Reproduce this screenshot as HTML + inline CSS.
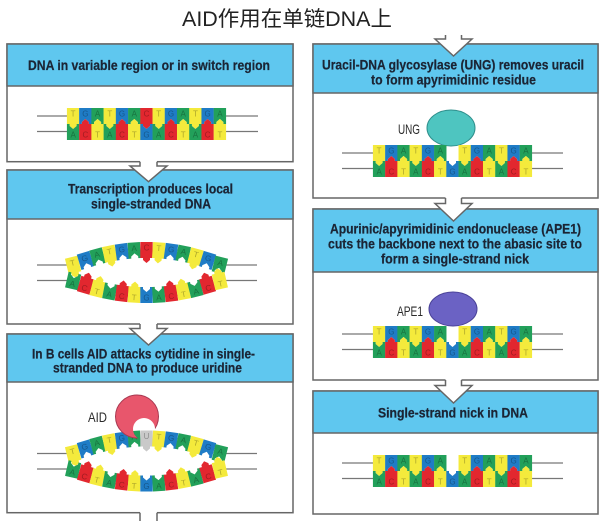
<!DOCTYPE html>
<html><head><meta charset="utf-8">
<style>
html,body{margin:0;padding:0;background:#fff;}
svg{display:block;}
.l{font-family:"Liberation Sans",sans-serif;font-size:8px;text-anchor:middle;fill:#000;fill-opacity:.3}
.h{font-family:"Liberation Sans",sans-serif;font-size:14px;font-weight:bold;fill:#1b2535;stroke:#1b2535;stroke-width:.25}
.lab{font-family:"Liberation Sans",sans-serif;font-size:14px;fill:#2a2a2a}
</style></head>
<body>
<svg width="607" height="521" viewBox="0 0 607 521" xmlns="http://www.w3.org/2000/svg">
<defs>
<path id="pt" d="M-6.2,-8H6.2V8H3.5V10L0,13L-3.5,10V8H-6.2Z"/>
<path id="rt" d="M-6.2,-8H6.2V8H3.5V6L0,3L-3.5,6V8H-6.2Z"/>
<path id="pb" d="M-6.2,8H6.2V-8H3.5V-10L0,-13L-3.5,-10V-8H-6.2Z"/>
<path id="rb" d="M-6.2,8H6.2V-8H3.5V-6L0,-3L-3.5,-6V-8H-6.2Z"/>
<mask id="aidm"><rect x="100" y="380" width="90" height="80" fill="#fff"/><circle cx="144" cy="429" r="11" fill="#000"/></mask>
</defs>

<!-- title -->
<text x="182" y="26" font-family="'Liberation Sans','Noto Sans CJK SC',sans-serif" font-size="21" fill="#222" textLength="210" lengthAdjust="spacingAndGlyphs">AID作用在单链DNA上</text>

<!-- panels -->
<g stroke="#666" stroke-width="1.5">
<rect x="7" y="44" width="286" height="117.7" fill="#fff"/>
<rect x="7" y="44" width="286" height="42" fill="#5fc7ef"/>
<rect x="7" y="170" width="286" height="154" fill="#fff"/>
<rect x="7" y="170" width="286" height="49" fill="#5fc7ef"/>
<rect x="7" y="334" width="286" height="178.7" fill="#fff"/>
<rect x="7" y="334" width="286" height="48" fill="#5fc7ef"/>
<rect x="313" y="44" width="285" height="154" fill="#fff"/>
<rect x="313" y="44" width="285" height="49" fill="#5fc7ef"/>
<rect x="313" y="209" width="285" height="171" fill="#fff"/>
<rect x="313" y="209" width="285" height="63" fill="#5fc7ef"/>
<rect x="313" y="391" width="285" height="123" fill="#fff"/>
<rect x="313" y="391" width="285" height="42" fill="#5fc7ef"/>
</g>

<!-- arrows -->
<g fill="#fff" stroke="none">
<path d="M140,160V166H130L148.5,181.7L167,166H157V160Z"/>
<path d="M140,322.5V328.5H130L148.5,345L167,328.5H157V322.5Z"/>
<rect x="140" y="511" width="17" height="12"/>
<path d="M445.5,33V39H435L453.5,56L472,39H461.5V33Z"/>
<path d="M445.5,196.5V203.5H435L453.5,221L472,203.5H461.5V196.5Z"/>
<path d="M445.5,378.5V385.5H435L453.5,403L472,385.5H461.5V378.5Z"/>
</g>
<g fill="none" stroke="#666" stroke-width="1.5">
<path d="M140,161.7V166H130L148.5,181.7L167,166H157V161.7"/>
<path d="M140,324V328.5H130L148.5,345L167,328.5H157V324"/>
<path d="M140,512.7V522M157,512.7V522"/>
<path d="M445.5,35V39H435L453.5,56L472,39H461.5V35"/>
<path d="M445.5,198V203.5H435L453.5,221L472,203.5H461.5V198"/>
<path d="M445.5,380V385.5H435L453.5,403L472,385.5H461.5V380"/>
</g>

<!-- header texts -->
<text class="h" x="28" y="70" textLength="242" lengthAdjust="spacingAndGlyphs">DNA in variable region or in switch region</text>
<text class="h" x="68" y="193.5" textLength="165" lengthAdjust="spacingAndGlyphs">Transcription produces local</text>
<text class="h" x="91" y="208.5" textLength="120" lengthAdjust="spacingAndGlyphs">single-stranded DNA</text>
<text class="h" x="32" y="358.5" textLength="223" lengthAdjust="spacingAndGlyphs">In B cells AID attacks cytidine in single-</text>
<text class="h" x="53" y="372.5" textLength="189" lengthAdjust="spacingAndGlyphs">stranded DNA to produce uridine</text>
<text class="h" x="322" y="69.5" textLength="262" lengthAdjust="spacingAndGlyphs">Uracil-DNA glycosylase (UNG) removes uracil</text>
<text class="h" x="371" y="84.5" textLength="165" lengthAdjust="spacingAndGlyphs">to form apyrimidinic residue</text>
<text class="h" x="330" y="233.5" textLength="251" lengthAdjust="spacingAndGlyphs">Apurinic/apyrimidinic endonuclease (APE1)</text>
<text class="h" x="328" y="248.5" textLength="254" lengthAdjust="spacingAndGlyphs">cuts the backbone next to the abasic site to</text>
<text class="h" x="381" y="263.5" textLength="148" lengthAdjust="spacingAndGlyphs">form a single-strand nick</text>
<text class="h" x="378" y="417.5" textLength="150" lengthAdjust="spacingAndGlyphs">Single-strand nick in DNA</text>

<!-- backbone lines -->
<g stroke="#777" stroke-width="1.3">
<path d="M37,116H68M225,116H258M37,131.5H68M225,131.5H258"/>
<path d="M37,265H68M225,265H257M37,280.5H68M225,280.5H257"/>
<path d="M37,453.5H68M225,453.5H257M37,469H68M225,469H257"/>
<path d="M342,153H374M531,153H563M342,168.5H374M531,168.5H563"/>
<path d="M342,334H374M531,334H563M342,349.5H374M531,349.5H563"/>
<path d="M342,463H374M531,463H563M342,478.5H374M531,478.5H563"/>
</g>

<!-- enzymes behind DNA -->
<ellipse cx="451" cy="128" rx="24" ry="18" fill="#4ec5c0" stroke="#2f8f8c" stroke-width="1"/>
<ellipse cx="453" cy="309" rx="24" ry="17" fill="#6b62c4" stroke="#4a4298" stroke-width="1"/>
<text class="lab" x="398" y="134" textLength="22" lengthAdjust="spacingAndGlyphs">UNG</text>
<text class="lab" x="397" y="316" textLength="26" lengthAdjust="spacingAndGlyphs">APE1</text>
<text class="lab" x="88" y="422" textLength="19" lengthAdjust="spacingAndGlyphs">AID</text>

<!-- DNA L1 flat -->
<g transform="translate(67,108)">
<g transform="translate(6.12,8)"><use href="#pt" fill="#f4ea3c"/><text class="l" y=".5">T</text></g>
<g transform="translate(18.35,8)"><use href="#rt" fill="#1f7cc6"/><text class="l" y=".5">G</text></g>
<g transform="translate(30.58,8)"><use href="#rt" fill="#22a05a"/><text class="l" y=".5">A</text></g>
<g transform="translate(42.81,8)"><use href="#pt" fill="#f4ea3c"/><text class="l" y=".5">T</text></g>
<g transform="translate(55.04,8)"><use href="#rt" fill="#1f7cc6"/><text class="l" y=".5">G</text></g>
<g transform="translate(67.27,8)"><use href="#rt" fill="#22a05a"/><text class="l" y=".5">A</text></g>
<g transform="translate(79.5,8)"><use href="#pt" fill="#e2272f"/><text class="l" y=".5">C</text></g>
<g transform="translate(91.73,8)"><use href="#pt" fill="#f4ea3c"/><text class="l" y=".5">T</text></g>
<g transform="translate(103.96,8)"><use href="#rt" fill="#1f7cc6"/><text class="l" y=".5">G</text></g>
<g transform="translate(116.19,8)"><use href="#rt" fill="#22a05a"/><text class="l" y=".5">A</text></g>
<g transform="translate(128.42,8)"><use href="#pt" fill="#f4ea3c"/><text class="l" y=".5">T</text></g>
<g transform="translate(140.65,8)"><use href="#rt" fill="#1f7cc6"/><text class="l" y=".5">G</text></g>
<g transform="translate(152.88,8)"><use href="#rt" fill="#22a05a"/><text class="l" y=".5">A</text></g>
<g transform="translate(6.12,24)"><use href="#rb" fill="#22a05a"/><text class="l" y="5.5">A</text></g>
<g transform="translate(18.35,24)"><use href="#pb" fill="#e2272f"/><text class="l" y="5.5">C</text></g>
<g transform="translate(30.58,24)"><use href="#pb" fill="#f4ea3c"/><text class="l" y="5.5">T</text></g>
<g transform="translate(42.81,24)"><use href="#rb" fill="#22a05a"/><text class="l" y="5.5">A</text></g>
<g transform="translate(55.04,24)"><use href="#pb" fill="#e2272f"/><text class="l" y="5.5">C</text></g>
<g transform="translate(67.27,24)"><use href="#pb" fill="#f4ea3c"/><text class="l" y="5.5">T</text></g>
<g transform="translate(79.5,24)"><use href="#rb" fill="#1f7cc6"/><text class="l" y="5.5">G</text></g>
<g transform="translate(91.73,24)"><use href="#rb" fill="#22a05a"/><text class="l" y="5.5">A</text></g>
<g transform="translate(103.96,24)"><use href="#pb" fill="#e2272f"/><text class="l" y="5.5">C</text></g>
<g transform="translate(116.19,24)"><use href="#pb" fill="#f4ea3c"/><text class="l" y="5.5">T</text></g>
<g transform="translate(128.42,24)"><use href="#rb" fill="#22a05a"/><text class="l" y="5.5">A</text></g>
<g transform="translate(140.65,24)"><use href="#pb" fill="#e2272f"/><text class="l" y="5.5">C</text></g>
<g transform="translate(152.88,24)"><use href="#pb" fill="#f4ea3c"/><text class="l" y="5.5">T</text></g>
</g>

<!-- DNA L2 bubble -->
<g transform="translate(67,257)">
<g transform="translate(6.12,8) rotate(-14) scale(1.04,1)"><use href="#pt" fill="#f4ea3c"/><text class="l" y=".5">T</text></g>
<g transform="translate(18.35,3.42) rotate(-17) scale(1.05,1)"><use href="#rt" fill="#1f7cc6"/><text class="l" y=".5">G</text></g>
<g transform="translate(30.58,-0.33) rotate(-15) scale(1.036,1)"><use href="#rt" fill="#22a05a"/><text class="l" y=".5">A</text></g>
<g transform="translate(42.81,-3.25) rotate(-11.6) scale(1.021,1)"><use href="#pt" fill="#f4ea3c"/><text class="l" y=".5">T</text></g>
<g transform="translate(55.04,-5.33) rotate(-7.8) scale(1.009,1)"><use href="#rt" fill="#1f7cc6"/><text class="l" y=".5">G</text></g>
<g transform="translate(67.27,-6.58) rotate(-3.9)"><use href="#rt" fill="#22a05a"/><text class="l" y=".5">A</text></g>
<g transform="translate(79.5,-7)"><use href="#pt" fill="#e2272f"/><text class="l" y=".5">C</text></g>
<g transform="translate(91.73,-6.58) rotate(3.9)"><use href="#pt" fill="#f4ea3c"/><text class="l" y=".5">T</text></g>
<g transform="translate(103.96,-5.33) rotate(7.8) scale(1.009,1)"><use href="#rt" fill="#1f7cc6"/><text class="l" y=".5">G</text></g>
<g transform="translate(116.19,-3.25) rotate(11.6) scale(1.021,1)"><use href="#rt" fill="#22a05a"/><text class="l" y=".5">A</text></g>
<g transform="translate(128.42,-0.33) rotate(15) scale(1.036,1)"><use href="#pt" fill="#f4ea3c"/><text class="l" y=".5">T</text></g>
<g transform="translate(140.65,3.42) rotate(17) scale(1.05,1)"><use href="#rt" fill="#1f7cc6"/><text class="l" y=".5">G</text></g>
<g transform="translate(152.88,8) rotate(14) scale(1.04,1)"><use href="#rt" fill="#22a05a"/><text class="l" y=".5">A</text></g>
<g transform="translate(6.12,24) rotate(13) scale(1.04,1)"><use href="#rb" fill="#22a05a"/><text class="l" y="5.5">A</text></g>
<g transform="translate(18.35,28.28) rotate(16) scale(1.045,1)"><use href="#pb" fill="#e2272f"/><text class="l" y="5.5">C</text></g>
<g transform="translate(30.58,31.78) rotate(14) scale(1.032,1)"><use href="#pb" fill="#f4ea3c"/><text class="l" y="5.5">T</text></g>
<g transform="translate(42.81,34.5) rotate(10.8) scale(1.018,1)"><use href="#rb" fill="#22a05a"/><text class="l" y="5.5">A</text></g>
<g transform="translate(55.04,36.44) rotate(7.3) scale(1.008,1)"><use href="#pb" fill="#e2272f"/><text class="l" y="5.5">C</text></g>
<g transform="translate(67.27,37.61) rotate(3.6)"><use href="#pb" fill="#f4ea3c"/><text class="l" y="5.5">T</text></g>
<g transform="translate(79.5,38)"><use href="#rb" fill="#1f7cc6"/><text class="l" y="5.5">G</text></g>
<g transform="translate(91.73,37.61) rotate(-3.6)"><use href="#rb" fill="#22a05a"/><text class="l" y="5.5">A</text></g>
<g transform="translate(103.96,36.44) rotate(-7.3) scale(1.008,1)"><use href="#pb" fill="#e2272f"/><text class="l" y="5.5">C</text></g>
<g transform="translate(116.19,34.5) rotate(-10.8) scale(1.018,1)"><use href="#pb" fill="#f4ea3c"/><text class="l" y="5.5">T</text></g>
<g transform="translate(128.42,31.78) rotate(-14) scale(1.032,1)"><use href="#rb" fill="#22a05a"/><text class="l" y="5.5">A</text></g>
<g transform="translate(140.65,28.28) rotate(-16) scale(1.045,1)"><use href="#pb" fill="#e2272f"/><text class="l" y="5.5">C</text></g>
<g transform="translate(152.88,24) rotate(-13) scale(1.04,1)"><use href="#pb" fill="#f4ea3c"/><text class="l" y="5.5">T</text></g>
</g>

<!-- DNA L3 bubble with U -->
<g transform="translate(67,445.5)">
<g transform="translate(6.12,8) rotate(-14) scale(1.04,1)"><use href="#pt" fill="#f4ea3c"/><text class="l" y=".5">T</text></g>
<g transform="translate(18.35,3.42) rotate(-17) scale(1.05,1)"><use href="#rt" fill="#1f7cc6"/><text class="l" y=".5">G</text></g>
<g transform="translate(30.58,-0.33) rotate(-15) scale(1.036,1)"><use href="#rt" fill="#22a05a"/><text class="l" y=".5">A</text></g>
<g transform="translate(42.81,-3.25) rotate(-11.6) scale(1.021,1)"><use href="#pt" fill="#f4ea3c"/><text class="l" y=".5">T</text></g>
<g transform="translate(55.04,-5.33) rotate(-7.8) scale(1.009,1)"><use href="#rt" fill="#1f7cc6"/><text class="l" y=".5">G</text></g>
<g transform="translate(67.27,-6.58) rotate(-3.9)"><use href="#rt" fill="#22a05a"/><text class="l" y=".5">A</text></g>
<g transform="translate(79.5,-7)"><use href="#pt" fill="#c9c9c9"/><text class="l" y=".5">U</text></g>
<g transform="translate(91.73,-6.58) rotate(3.9)"><use href="#pt" fill="#f4ea3c"/><text class="l" y=".5">T</text></g>
<g transform="translate(103.96,-5.33) rotate(7.8) scale(1.009,1)"><use href="#rt" fill="#1f7cc6"/><text class="l" y=".5">G</text></g>
<g transform="translate(116.19,-3.25) rotate(11.6) scale(1.021,1)"><use href="#rt" fill="#22a05a"/><text class="l" y=".5">A</text></g>
<g transform="translate(128.42,-0.33) rotate(15) scale(1.036,1)"><use href="#pt" fill="#f4ea3c"/><text class="l" y=".5">T</text></g>
<g transform="translate(140.65,3.42) rotate(17) scale(1.05,1)"><use href="#rt" fill="#1f7cc6"/><text class="l" y=".5">G</text></g>
<g transform="translate(152.88,8) rotate(14) scale(1.04,1)"><use href="#rt" fill="#22a05a"/><text class="l" y=".5">A</text></g>
<g transform="translate(6.12,24) rotate(13) scale(1.04,1)"><use href="#rb" fill="#22a05a"/><text class="l" y="5.5">A</text></g>
<g transform="translate(18.35,28.28) rotate(16) scale(1.045,1)"><use href="#pb" fill="#e2272f"/><text class="l" y="5.5">C</text></g>
<g transform="translate(30.58,31.78) rotate(14) scale(1.032,1)"><use href="#pb" fill="#f4ea3c"/><text class="l" y="5.5">T</text></g>
<g transform="translate(42.81,34.5) rotate(10.8) scale(1.018,1)"><use href="#rb" fill="#22a05a"/><text class="l" y="5.5">A</text></g>
<g transform="translate(55.04,36.44) rotate(7.3) scale(1.008,1)"><use href="#pb" fill="#e2272f"/><text class="l" y="5.5">C</text></g>
<g transform="translate(67.27,37.61) rotate(3.6)"><use href="#pb" fill="#f4ea3c"/><text class="l" y="5.5">T</text></g>
<g transform="translate(79.5,38)"><use href="#rb" fill="#1f7cc6"/><text class="l" y="5.5">G</text></g>
<g transform="translate(91.73,37.61) rotate(-3.6)"><use href="#rb" fill="#22a05a"/><text class="l" y="5.5">A</text></g>
<g transform="translate(103.96,36.44) rotate(-7.3) scale(1.008,1)"><use href="#pb" fill="#e2272f"/><text class="l" y="5.5">C</text></g>
<g transform="translate(116.19,34.5) rotate(-10.8) scale(1.018,1)"><use href="#pb" fill="#f4ea3c"/><text class="l" y="5.5">T</text></g>
<g transform="translate(128.42,31.78) rotate(-14) scale(1.032,1)"><use href="#rb" fill="#22a05a"/><text class="l" y="5.5">A</text></g>
<g transform="translate(140.65,28.28) rotate(-16) scale(1.045,1)"><use href="#pb" fill="#e2272f"/><text class="l" y="5.5">C</text></g>
<g transform="translate(152.88,24) rotate(-13) scale(1.04,1)"><use href="#pb" fill="#f4ea3c"/><text class="l" y="5.5">T</text></g>
</g>

<!-- AID enzyme -->
<circle cx="137" cy="416.5" r="21.5" fill="#e8566c" stroke="#a83850" stroke-width="1" mask="url(#aidm)"/>

<!-- DNA right panels (flat, abasic at top index 6) -->
<g transform="translate(373,145)">
<g transform="translate(6.12,8)"><use href="#pt" fill="#f4ea3c"/><text class="l" y=".5">T</text></g>
<g transform="translate(18.35,8)"><use href="#rt" fill="#1f7cc6"/><text class="l" y=".5">G</text></g>
<g transform="translate(30.58,8)"><use href="#rt" fill="#22a05a"/><text class="l" y=".5">A</text></g>
<g transform="translate(42.81,8)"><use href="#pt" fill="#f4ea3c"/><text class="l" y=".5">T</text></g>
<g transform="translate(55.04,8)"><use href="#rt" fill="#1f7cc6"/><text class="l" y=".5">G</text></g>
<g transform="translate(67.27,8)"><use href="#rt" fill="#22a05a"/><text class="l" y=".5">A</text></g>
<g transform="translate(91.73,8)"><use href="#pt" fill="#f4ea3c"/><text class="l" y=".5">T</text></g>
<g transform="translate(103.96,8)"><use href="#rt" fill="#1f7cc6"/><text class="l" y=".5">G</text></g>
<g transform="translate(116.19,8)"><use href="#rt" fill="#22a05a"/><text class="l" y=".5">A</text></g>
<g transform="translate(128.42,8)"><use href="#pt" fill="#f4ea3c"/><text class="l" y=".5">T</text></g>
<g transform="translate(140.65,8)"><use href="#rt" fill="#1f7cc6"/><text class="l" y=".5">G</text></g>
<g transform="translate(152.88,8)"><use href="#rt" fill="#22a05a"/><text class="l" y=".5">A</text></g>
<g transform="translate(6.12,24)"><use href="#rb" fill="#22a05a"/><text class="l" y="5.5">A</text></g>
<g transform="translate(18.35,24)"><use href="#pb" fill="#e2272f"/><text class="l" y="5.5">C</text></g>
<g transform="translate(30.58,24)"><use href="#pb" fill="#f4ea3c"/><text class="l" y="5.5">T</text></g>
<g transform="translate(42.81,24)"><use href="#rb" fill="#22a05a"/><text class="l" y="5.5">A</text></g>
<g transform="translate(55.04,24)"><use href="#pb" fill="#e2272f"/><text class="l" y="5.5">C</text></g>
<g transform="translate(67.27,24)"><use href="#pb" fill="#f4ea3c"/><text class="l" y="5.5">T</text></g>
<g transform="translate(79.5,24)"><use href="#rb" fill="#1f7cc6"/><text class="l" y="5.5">G</text></g>
<g transform="translate(91.73,24)"><use href="#rb" fill="#22a05a"/><text class="l" y="5.5">A</text></g>
<g transform="translate(103.96,24)"><use href="#pb" fill="#e2272f"/><text class="l" y="5.5">C</text></g>
<g transform="translate(116.19,24)"><use href="#pb" fill="#f4ea3c"/><text class="l" y="5.5">T</text></g>
<g transform="translate(128.42,24)"><use href="#rb" fill="#22a05a"/><text class="l" y="5.5">A</text></g>
<g transform="translate(140.65,24)"><use href="#pb" fill="#e2272f"/><text class="l" y="5.5">C</text></g>
<g transform="translate(152.88,24)"><use href="#pb" fill="#f4ea3c"/><text class="l" y="5.5">T</text></g>
</g>

<g transform="translate(373,326)">
<g transform="translate(6.12,8)"><use href="#pt" fill="#f4ea3c"/><text class="l" y=".5">T</text></g>
<g transform="translate(18.35,8)"><use href="#rt" fill="#1f7cc6"/><text class="l" y=".5">G</text></g>
<g transform="translate(30.58,8)"><use href="#rt" fill="#22a05a"/><text class="l" y=".5">A</text></g>
<g transform="translate(42.81,8)"><use href="#pt" fill="#f4ea3c"/><text class="l" y=".5">T</text></g>
<g transform="translate(55.04,8)"><use href="#rt" fill="#1f7cc6"/><text class="l" y=".5">G</text></g>
<g transform="translate(67.27,8)"><use href="#rt" fill="#22a05a"/><text class="l" y=".5">A</text></g>
<g transform="translate(91.73,8)"><use href="#pt" fill="#f4ea3c"/><text class="l" y=".5">T</text></g>
<g transform="translate(103.96,8)"><use href="#rt" fill="#1f7cc6"/><text class="l" y=".5">G</text></g>
<g transform="translate(116.19,8)"><use href="#rt" fill="#22a05a"/><text class="l" y=".5">A</text></g>
<g transform="translate(128.42,8)"><use href="#pt" fill="#f4ea3c"/><text class="l" y=".5">T</text></g>
<g transform="translate(140.65,8)"><use href="#rt" fill="#1f7cc6"/><text class="l" y=".5">G</text></g>
<g transform="translate(152.88,8)"><use href="#rt" fill="#22a05a"/><text class="l" y=".5">A</text></g>
<g transform="translate(6.12,24)"><use href="#rb" fill="#22a05a"/><text class="l" y="5.5">A</text></g>
<g transform="translate(18.35,24)"><use href="#pb" fill="#e2272f"/><text class="l" y="5.5">C</text></g>
<g transform="translate(30.58,24)"><use href="#pb" fill="#f4ea3c"/><text class="l" y="5.5">T</text></g>
<g transform="translate(42.81,24)"><use href="#rb" fill="#22a05a"/><text class="l" y="5.5">A</text></g>
<g transform="translate(55.04,24)"><use href="#pb" fill="#e2272f"/><text class="l" y="5.5">C</text></g>
<g transform="translate(67.27,24)"><use href="#pb" fill="#f4ea3c"/><text class="l" y="5.5">T</text></g>
<g transform="translate(79.5,24)"><use href="#rb" fill="#1f7cc6"/><text class="l" y="5.5">G</text></g>
<g transform="translate(91.73,24)"><use href="#rb" fill="#22a05a"/><text class="l" y="5.5">A</text></g>
<g transform="translate(103.96,24)"><use href="#pb" fill="#e2272f"/><text class="l" y="5.5">C</text></g>
<g transform="translate(116.19,24)"><use href="#pb" fill="#f4ea3c"/><text class="l" y="5.5">T</text></g>
<g transform="translate(128.42,24)"><use href="#rb" fill="#22a05a"/><text class="l" y="5.5">A</text></g>
<g transform="translate(140.65,24)"><use href="#pb" fill="#e2272f"/><text class="l" y="5.5">C</text></g>
<g transform="translate(152.88,24)"><use href="#pb" fill="#f4ea3c"/><text class="l" y="5.5">T</text></g>
</g>

<g transform="translate(373,455)">
<g transform="translate(6.12,8)"><use href="#pt" fill="#f4ea3c"/><text class="l" y=".5">T</text></g>
<g transform="translate(18.35,8)"><use href="#rt" fill="#1f7cc6"/><text class="l" y=".5">G</text></g>
<g transform="translate(30.58,8)"><use href="#rt" fill="#22a05a"/><text class="l" y=".5">A</text></g>
<g transform="translate(42.81,8)"><use href="#pt" fill="#f4ea3c"/><text class="l" y=".5">T</text></g>
<g transform="translate(55.04,8)"><use href="#rt" fill="#1f7cc6"/><text class="l" y=".5">G</text></g>
<g transform="translate(67.27,8)"><use href="#rt" fill="#22a05a"/><text class="l" y=".5">A</text></g>
<g transform="translate(91.73,8)"><use href="#pt" fill="#f4ea3c"/><text class="l" y=".5">T</text></g>
<g transform="translate(103.96,8)"><use href="#rt" fill="#1f7cc6"/><text class="l" y=".5">G</text></g>
<g transform="translate(116.19,8)"><use href="#rt" fill="#22a05a"/><text class="l" y=".5">A</text></g>
<g transform="translate(128.42,8)"><use href="#pt" fill="#f4ea3c"/><text class="l" y=".5">T</text></g>
<g transform="translate(140.65,8)"><use href="#rt" fill="#1f7cc6"/><text class="l" y=".5">G</text></g>
<g transform="translate(152.88,8)"><use href="#rt" fill="#22a05a"/><text class="l" y=".5">A</text></g>
<g transform="translate(6.12,24)"><use href="#rb" fill="#22a05a"/><text class="l" y="5.5">A</text></g>
<g transform="translate(18.35,24)"><use href="#pb" fill="#e2272f"/><text class="l" y="5.5">C</text></g>
<g transform="translate(30.58,24)"><use href="#pb" fill="#f4ea3c"/><text class="l" y="5.5">T</text></g>
<g transform="translate(42.81,24)"><use href="#rb" fill="#22a05a"/><text class="l" y="5.5">A</text></g>
<g transform="translate(55.04,24)"><use href="#pb" fill="#e2272f"/><text class="l" y="5.5">C</text></g>
<g transform="translate(67.27,24)"><use href="#pb" fill="#f4ea3c"/><text class="l" y="5.5">T</text></g>
<g transform="translate(79.5,24)"><use href="#rb" fill="#1f7cc6"/><text class="l" y="5.5">G</text></g>
<g transform="translate(91.73,24)"><use href="#rb" fill="#22a05a"/><text class="l" y="5.5">A</text></g>
<g transform="translate(103.96,24)"><use href="#pb" fill="#e2272f"/><text class="l" y="5.5">C</text></g>
<g transform="translate(116.19,24)"><use href="#pb" fill="#f4ea3c"/><text class="l" y="5.5">T</text></g>
<g transform="translate(128.42,24)"><use href="#rb" fill="#22a05a"/><text class="l" y="5.5">A</text></g>
<g transform="translate(140.65,24)"><use href="#pb" fill="#e2272f"/><text class="l" y="5.5">C</text></g>
<g transform="translate(152.88,24)"><use href="#pb" fill="#f4ea3c"/><text class="l" y="5.5">T</text></g>
</g>
</svg>
</body></html>
